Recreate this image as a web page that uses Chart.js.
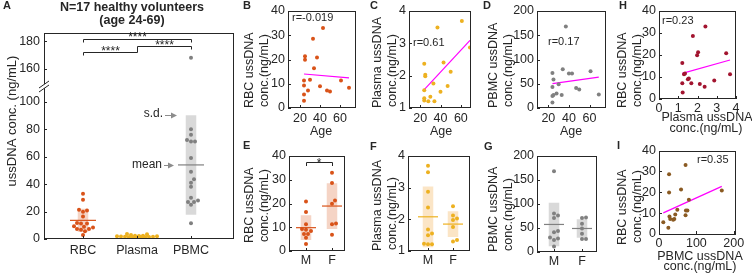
<!DOCTYPE html>
<html><head><meta charset="utf-8">
<script src="https://cdn.jsdelivr.net/npm/chart.js@4.4.1/dist/chart.umd.min.js"></script>
<style>
html,body{margin:0;padding:0;background:#fff;}
#wrap{position:relative;width:752px;height:275px;overflow:hidden;background:#fff;}
canvas{position:absolute;}
</style></head><body>
<div id="wrap">
<canvas id="cA"></canvas><canvas id="cB"></canvas><canvas id="cC"></canvas><canvas id="cD"></canvas><canvas id="cH"></canvas>
<canvas id="cE"></canvas><canvas id="cF"></canvas><canvas id="cG"></canvas><canvas id="cI"></canvas>
</div>
<script>
// ---------------- data: one entry per volunteer ----------------
const age    = [43, 33, 25, 37, 25, 34, 30, 24, 61, 24, 40, 69, 28, 47, 50, 24, 24];
const rbc    = [33.0, 28.6, 21.3, 20.8, 19.9, 16.4, 11.6, 11.3, 11.3, 9.3, 9.0, 8.4, 7.2, 7.2, 6.8, 5.6, 3.0];
const plasma = [2.41, 1.76, 2.03, 3.49, 1.98, 1.21, 1.35, 1.30, 3.69, 1.55, 1.50, 2.87, 1.21, 1.68, 2.12, 2.37, 1.23];
const pbmc   = [71, 27, 59, 168, 27, 80, 49, 72, 76, 43.5, 71, 28, 30, 41, 38, 11.5, 25];
const sex    = ['F','F','F','M','F','M','F','F','M','M','M','M','M','M','F','M','M'];
const sampleTypes = ['RBC', 'Plasma', 'PBMC'];
const sexGroups = ['M', 'F'];
const rLabels = {B: 'r=-0.019', C: 'r=0.61', D: 'r=0.17', H: 'r=0.23', I: 'r=0.35'};
const yTicksA = [0, 20, 40, 60, 80, 100, 160, 180];
const ageTicks = [20, 40, 60];
const rbcTicks = [0, 10, 20, 30, 40];
const plasmaTicks = [1, 2, 3, 4];
const pbmcTicks = [0, 50, 100, 150, 200];
const plasmaXTicks = [0, 1, 2, 3, 4];
const pbmcXTicks = [0, 100, 200];

// ---------------- styling ----------------
const FONT = '"Liberation Sans", Arial, Helvetica, sans-serif';
const TC = '#262626';
const C_RBC = '#D95319', C_PL = '#EDB120', C_PB = '#808080', C_H = '#A2142F', C_I = '#8A5A22', MAG = '#FF00FF';
const BOX_RBC = 'rgba(217,83,25,0.25)', BOX_PL = 'rgba(240,160,50,0.28)', BOX_PB = 'rgba(128,128,128,0.3)';
const PR = 2.0;

// ---------------- helpers ----------------
function reg(xs, ys) {
  const n = xs.length, mx = xs.reduce((s, v) => s + v, 0) / n, my = ys.reduce((s, v) => s + v, 0) / n;
  let sxy = 0, sxx = 0;
  for (let i = 0; i < n; i++) { sxy += (xs[i] - mx) * (ys[i] - my); sxx += (xs[i] - mx) ** 2; }
  const b = sxy / sxx, a = my - b * mx, x0 = Math.min(...xs), x1 = Math.max(...xs);
  return [{x: x0, y: a + b * x0}, {x: x1, y: a + b * x1}];
}
function stats(v) {
  const n = v.length, m = v.reduce((s, x) => s + x, 0) / n;
  return {m, sd: Math.sqrt(v.reduce((s, x) => s + (x - m) ** 2, 0) / (n - 1))};
}
function swarm(vals, pxY, maxPx, r) {
  const idx = vals.map((v, i) => i).sort((a, b) => vals[a] - vals[b]);
  const placed = [], off = new Array(vals.length).fill(0);
  const cands = [0]; for (let k = 1; k <= maxPx; k++) cands.push(k, -k);
  for (const i of idx) {
    const y = vals[i] * pxY; let best = 0, bestScore = -1;
    for (const c of cands) {
      let md = Infinity;
      for (const p of placed) md = Math.min(md, Math.hypot(p.x - c, p.y - y));
      if (md >= 2 * r) { best = c; break; }
      if (md > bestScore) { bestScore = md; best = c; }
    }
    placed.push({x: best, y}); off[i] = best;
  }
  return off;
}
function pick(arr, grp, g) { return arr.filter((v, i) => grp[i] === g); }

function axis(min, max, ticks, pad, size, fmt, fitKey, fitVal) {
  return {
    type: 'linear', min, max,
    grid: {display: false, drawTicks: false, tickLength: 0},
    border: {display: false},
    ticks: {font: {family: FONT, size}, color: TC, padding: pad, autoSkip: false, maxRotation: 0,
      callback: fmt || (v => v)},
    afterBuildTicks: s => { s.ticks = ticks.map(v => ({value: v})); },
    afterFit: s => { s[fitKey] = fitVal; }
  };
}

function catSets(list, xPos, vals, o) {
  const tf = o.tf || (v => v);
  const st = stats(vals);
  const bw = o.boxHalf / o.pxX, mw = o.meanHalf / o.pxX;
  const low = list.length;
  list.push({type: 'line', data: [{x: xPos - bw, y: tf(st.m - st.sd)}, {x: xPos + bw, y: tf(st.m - st.sd)}],
    borderWidth: 0, borderColor: 'rgba(0,0,0,0)', pointRadius: 0, fill: false, order: 3});
  list.push({type: 'line', data: [{x: xPos - bw, y: tf(st.m + st.sd)}, {x: xPos + bw, y: tf(st.m + st.sd)}],
    borderWidth: 0, borderColor: 'rgba(0,0,0,0)', pointRadius: 0, fill: low, backgroundColor: o.boxColor, order: 3});
  list.push({type: 'line', data: [{x: xPos - mw, y: tf(st.m)}, {x: xPos + mw, y: tf(st.m)}],
    borderWidth: 1.2, borderColor: o.meanColor, pointRadius: 0, fill: false, order: 1});
  const tv = vals.map(tf);
  const off = swarm(tv, o.pxY, o.swarm, PR);
  list.push({type: 'scatter', data: tv.map((v, i) => ({x: xPos + off[i] / o.pxX, y: v})),
    backgroundColor: o.color, pointRadius: PR, borderWidth: 0, order: 0});
  return st;
}

// frame + inward ticks for every panel
Chart.register({
  id: 'frame',
  afterDatasetsDraw(chart) {
    const {ctx, chartArea: a} = chart;
    ctx.save();
    ctx.strokeStyle = TC; ctx.lineWidth = 1;
    ctx.strokeRect(Math.round(a.left) + 0.5, Math.round(a.top) + 0.5, Math.round(a.right - a.left) - 1, Math.round(a.bottom - a.top) - 1);
    const xs = chart.scales.x, ys = chart.scales.y;
    ctx.beginPath();
    xs.ticks.forEach(t => { const p = Math.round(xs.getPixelForValue(t.value)) + 0.5; ctx.moveTo(p, a.bottom); ctx.lineTo(p, a.bottom - 3); });
    ys.ticks.forEach(t => { const p = Math.round(ys.getPixelForValue(t.value)) + 0.5; ctx.moveTo(a.left, p); ctx.lineTo(a.left + 3, p); });
    ctx.stroke();
    ctx.restore();
  }
});

function drawTexts(chart, g, items) {
  const ctx = chart.ctx;
  items.forEach(t => {
    ctx.save();
    ctx.font = (t.bold ? 'bold ' : '') + t.size + 'px ' + FONT;
    ctx.fillStyle = t.color || TC;
    ctx.textAlign = t.align || 'center';
    ctx.textBaseline = 'middle';
    ctx.translate(t.x - g.x, t.y - g.y);
    if (t.rot) ctx.rotate(t.rot);
    ctx.fillText(t.text, 0, 0);
    ctx.restore();
  });
}
const T = (text, x, y, o = {}) => Object.assign({text, x, y, size: 12}, o);
const ROT = -Math.PI / 2;

function panel(id, g, xAx, yAx, datasets, texts, extraDraw) {
  const cv = document.getElementById('c' + id);
  cv.width = g.w; cv.height = g.h;
  Object.assign(cv.style, {left: g.x + 'px', top: g.y + 'px', width: g.w + 'px', height: g.h + 'px'});
  return new Chart(cv, {
    type: 'scatter',
    data: {datasets},
    options: {
      responsive: false, animation: false, events: [], devicePixelRatio: 1,
      layout: {padding: {left: 0, top: g.ca.t - g.y, right: g.x + g.w - g.ca.r, bottom: 0}},
      plugins: {legend: {display: false}, tooltip: {enabled: false}},
      scales: {x: xAx, y: yAx}
    },
    plugins: [{id: 'txt' + id, afterDraw(chart) { if (extraDraw) extraDraw(chart); drawTexts(chart, g, texts); }}]
  });
}

const GEO = {
  A: {x: 0,   y: 0,   w: 264, h: 275, ca: {l: 44,  t: 33,  r: 234, b: 239}},
  B: {x: 240, y: 0,   w: 126, h: 140, ca: {l: 288, t: 11,  r: 356, b: 108}},
  C: {x: 366, y: 0,   w: 115, h: 140, ca: {l: 409, t: 11,  r: 471, b: 108}},
  D: {x: 481, y: 0,   w: 132, h: 140, ca: {l: 537, t: 11,  r: 606, b: 108}},
  H: {x: 613, y: 0,   w: 139, h: 140, ca: {l: 659, t: 11,  r: 736, b: 99}},
  E: {x: 240, y: 140, w: 126, h: 135, ca: {l: 289, t: 156, r: 345, b: 251}},
  F: {x: 366, y: 140, w: 115, h: 135, ca: {l: 408, t: 156, r: 470, b: 251}},
  G: {x: 481, y: 140, w: 132, h: 135, ca: {l: 537, t: 156, r: 597, b: 252}},
  I: {x: 613, y: 140, w: 139, h: 135, ca: {l: 659, t: 150, r: 736, b: 234}}
};
const xa = (g, min, max, ticks, pad, size, fmt) => axis(min, max, ticks, pad, size, fmt, 'height', g.y + g.h - g.ca.b);
const ya = (g, min, max, ticks, pad, size, fmt) => axis(min, max, ticks, pad, size, fmt, 'width', g.ca.l - g.x);

// ---------------- Panel A ----------------
(function () {
  const g = GEO.A, SHIFT = 36;
  const tf = v => (v > 120 ? v - SHIFT : v);
  const pxX = 54, pxY = (g.ca.b - g.ca.t) / 150;
  const ds = [];
  const groups = [rbc, plasma, pbmc];
  const cols = [C_RBC, C_PL, C_PB], boxes = [BOX_RBC, BOX_PL, BOX_PB], sw = [13, 20, 10];
  const st = [];
  groups.forEach((vals, k) => st.push(catSets(ds, k + 1, vals, {tf, pxX, pxY, color: cols[k], boxColor: boxes[k],
    meanColor: cols[k], boxHalf: 5.5, meanHalf: 13, swarm: sw[k]})));
  const xAx = xa(g, 1 - 39 / pxX, 3 + 43 / pxX, [1, 2, 3], 4, 12.5, v => sampleTypes[Math.round(v) - 1]);
  const yAx = ya(g, 0, 150, yTicksA.map(tf), 4, 12.5, v => (v > 101 ? v + SHIFT : v));
  const texts = [
    T('A', 3, 6, {bold: true, size: 11, align: 'left'}),
    T('N=17 healthy volunteers', 132, 7.5, {bold: true, size: 12.5}),
    T('(age 24-69)', 132, 20.5, {bold: true, size: 12.5}),
    T('ussDNA conc. (ng/mL)', 12, 121, {size: 13, rot: ROT}),
    T('s.d.', 163, 114, {align: 'right', size: 12}),
    T('mean', 162, 165, {align: 'right', size: 12})
  ];
  panel('A', g, xAx, yAx, ds, texts, chart => {
    const ctx = chart.ctx, xs = chart.scales.x, ys = chart.scales.y;
    const px = k => Math.round(xs.getPixelForValue(k)) + 0.5;
    ctx.save();
    // axis break
    ctx.fillStyle = '#fff';
    ctx.beginPath(); ctx.moveTo(39, 88); ctx.lineTo(49, 81); ctx.lineTo(49, 85); ctx.lineTo(39, 92); ctx.closePath(); ctx.fill();
    ctx.strokeStyle = TC; ctx.lineWidth = 1;
    ctx.beginPath(); ctx.moveTo(39, 88); ctx.lineTo(49, 81); ctx.moveTo(39, 92); ctx.lineTo(49, 85); ctx.stroke();
    // significance brackets
    ctx.beginPath();
    ctx.moveTo(px(1), 42.5); ctx.lineTo(px(1), 39.5); ctx.lineTo(px(3), 39.5); ctx.lineTo(px(3), 42.5);
    ctx.moveTo(px(2), 52.5); ctx.lineTo(px(2), 46.5); ctx.lineTo(px(3), 46.5); ctx.lineTo(px(3), 49.5);
    ctx.moveTo(px(1), 55.5); ctx.lineTo(px(1), 52.5); ctx.lineTo(px(2), 52.5);
    ctx.stroke();
    ctx.font = '12px ' + FONT; ctx.fillStyle = TC; ctx.textAlign = 'center'; ctx.textBaseline = 'alphabetic';
    ctx.fillText('****', (px(1) + px(3)) / 2, 41);
    ctx.fillText('****', (px(2) + px(3)) / 2, 48.5);
    ctx.fillText('****', (px(1) + px(2)) / 2, 55);
    // arrows to s.d. and mean of PBMC
    const pb = st[2];
    const arrow = (x0, x1, y) => {
      ctx.strokeStyle = '#8c8c8c'; ctx.fillStyle = '#8c8c8c';
      ctx.beginPath(); ctx.moveTo(x0, y); ctx.lineTo(x1 - 4, y); ctx.stroke();
      ctx.beginPath(); ctx.moveTo(x1, y); ctx.lineTo(x1 - 6, y - 3); ctx.lineTo(x1 - 6, y + 3); ctx.closePath(); ctx.fill();
    };
    arrow(165, 177, Math.round(ys.getPixelForValue(pb.m + pb.sd)) + 0.5);
    arrow(164, 174, Math.round(ys.getPixelForValue(pb.m)) + 0.5);
    ctx.restore();
  });
})();

// ---------------- scatter panels ----------------
function scatterPanel(id, xs, ys, col, xr, yr, xt, yt, texts) {
  const g = GEO[id];
  const ds = [
    {type: 'scatter', data: xs.map((v, i) => ({x: v, y: ys[i]})), backgroundColor: col, pointRadius: PR, borderWidth: 0, order: 0},
    {type: 'line', data: reg(xs, ys), borderColor: MAG, borderWidth: 1.2, pointRadius: 0, fill: false, order: 1}
  ];
  const xpad = g.ca.b === 99 || g.ca.b === 234 ? 2 : 3;
  panel(id, g, xa(g, xr[0], xr[1], xt, xpad, 12.5), ya(g, yr[0], yr[1], yt, 3, 12.5), ds, texts);
}
scatterPanel('B', age, rbc, C_RBC, [8, 76], [0, 40], ageTicks, rbcTicks, [
  T('B', 243, 6, {bold: true, size: 11, align: 'left'}),
  T('RBC ussDNA', 250, 108, {rot: ROT, align: 'left', size: 12.5}),
  T('conc.(ng/mL)', 265, 107, {rot: ROT, align: 'left', size: 12.5}),
  T('Age', 321, 131.5, {size: 12.5}),
  T(rLabels.B, 292, 18, {align: 'left', size: 11})
]);
scatterPanel('C', age, plasma, C_PL, [9, 70], [1, 4], ageTicks, plasmaTicks, [
  T('C', 370, 6, {bold: true, size: 11, align: 'left'}),
  T('Plasma ussDNA', 378, 108, {rot: ROT, align: 'left', size: 12.5}),
  T('conc.(ng/mL)', 393, 107, {rot: ROT, align: 'left', size: 12.5}),
  T('Age', 441, 131.5, {size: 12.5}),
  T(rLabels.C, 413, 43, {align: 'left', size: 11})
]);
scatterPanel('D', age, pbmc, C_PB, [9, 76], [0, 200], ageTicks, pbmcTicks, [
  T('D', 483, 6, {bold: true, size: 11, align: 'left'}),
  T('PBMC ussDNA', 494, 108, {rot: ROT, align: 'left', size: 12.5}),
  T('conc.(ng/mL)', 509, 107, {rot: ROT, align: 'left', size: 12.5}),
  T('Age', 571, 131.5, {size: 12.5}),
  T(rLabels.D, 548, 42, {align: 'left', size: 11})
]);
scatterPanel('H', plasma, rbc, C_H, [0, 4], [0, 40], plasmaXTicks, rbcTicks, [
  T('H', 619, 6, {bold: true, size: 11, align: 'left'}),
  T('RBC ussDNA', 623, 108, {rot: ROT, align: 'left', size: 12.5}),
  T('conc.(ng/mL)', 638, 107, {rot: ROT, align: 'left', size: 12.5}),
  T('Plasma ussDNA', 707, 118, {size: 12.5}),
  T('conc.(ng/mL)', 706, 129, {size: 12.5}),
  T(rLabels.H, 662, 20.5, {align: 'left', size: 11})
]);
scatterPanel('I', pbmc, rbc, C_I, [0, 206], [0, 40], pbmcXTicks, rbcTicks, [
  T('I', 617, 146, {bold: true, size: 11, align: 'left'}),
  T('RBC ussDNA', 623, 245, {rot: ROT, align: 'left', size: 12.5}),
  T('conc.(ng/mL)', 638, 243, {rot: ROT, align: 'left', size: 12.5}),
  T('PBMC ussDNA', 700, 256.5, {size: 12.5}),
  T('conc.(ng/mL)', 700, 267, {size: 12.5}),
  T(rLabels.I, 697, 160, {align: 'left', size: 11})
]);

// ---------------- sex comparison panels ----------------
function sexPanel(id, vals, col, box, yr, yt, pxX, xr, texts, extra) {
  const g = GEO[id];
  const pxY = (g.ca.b - g.ca.t) / (yr[1] - yr[0]);
  const ds = [];
  sexGroups.forEach((s, k) => catSets(ds, k + 1, pick(vals, sex, s).map(v => v - yr[0]), {
    tf: v => v, pxX, pxY, color: col, boxColor: box, meanColor: col, boxHalf: 5.5, meanHalf: 10, swarm: 6}));
  ds.forEach(d => d.data.forEach(p => { p.y += yr[0]; }));
  panel(id, g, xa(g, xr[0], xr[1], [1, 2], 2, 12.5, v => sexGroups[Math.round(v) - 1]),
    ya(g, yr[0], yr[1], yt, 3, 12.5), ds, texts, extra);
}
sexPanel('E', rbc, C_RBC, BOX_RBC, [0, 40], rbcTicks, 26, [1 - 17 / 26, 2 + 13 / 26], [
  T('E', 243, 146, {bold: true, size: 11, align: 'left'}),
  T('RBC ussDNA', 250, 243, {rot: ROT, align: 'left', size: 12.5}),
  T('conc.(ng/mL)', 265, 242, {rot: ROT, align: 'left', size: 12.5}),
  T('*', 319, 164, {size: 12})
], chart => {
  const ctx = chart.ctx, xs = chart.scales.x, gy = GEO.E.y;
  const p1 = Math.round(xs.getPixelForValue(1)) + 0.5, p2 = Math.round(xs.getPixelForValue(2)) + 0.5;
  ctx.save(); ctx.strokeStyle = TC; ctx.lineWidth = 1;
  ctx.beginPath(); ctx.moveTo(p1, 166 - gy); ctx.lineTo(p1, 162.5 - gy); ctx.lineTo(p2, 162.5 - gy); ctx.lineTo(p2, 166 - gy); ctx.stroke();
  ctx.restore();
});
sexPanel('F', plasma, C_PL, BOX_PL, [1, 4], plasmaTicks, 25, [1 - 20 / 25, 2 + 17 / 25], [
  T('F', 370, 147, {bold: true, size: 11, align: 'left'}),
  T('Plasma ussDNA', 378, 251, {rot: ROT, align: 'left', size: 12.5}),
  T('conc.(ng/mL)', 393, 250, {rot: ROT, align: 'left', size: 12.5})
]);
sexPanel('G', pbmc, C_PB, BOX_PB, [0, 200], pbmcTicks, 28, [1 - 17 / 28, 2 + 15 / 28], [
  T('G', 484, 147, {bold: true, size: 11, align: 'left'}),
  T('PBMC ussDNA', 494, 252, {rot: ROT, align: 'left', size: 12.5}),
  T('conc.(ng/mL)', 509, 251, {rot: ROT, align: 'left', size: 12.5})
]);
</script>
</body></html>
